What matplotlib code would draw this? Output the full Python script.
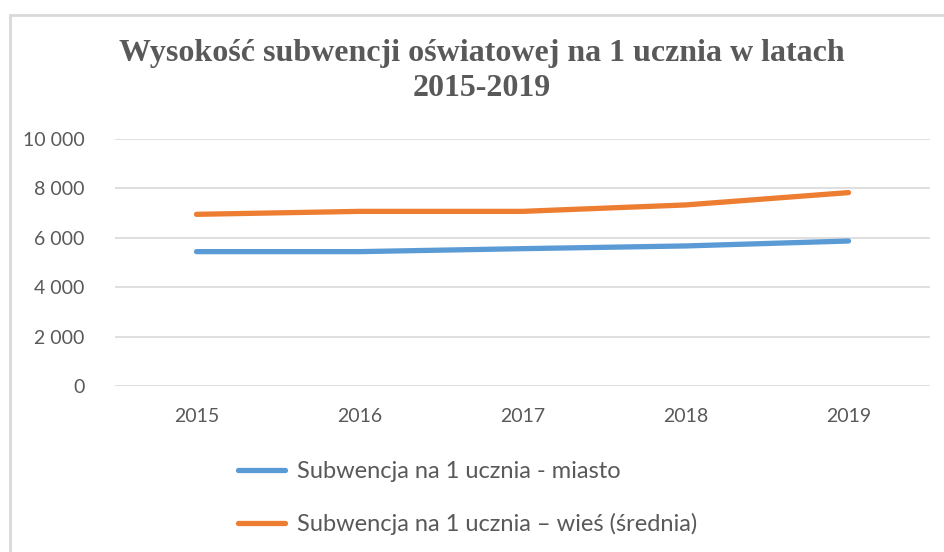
import matplotlib.pyplot as plt
from matplotlib.patches import Rectangle

years = ["2015", "2016", "2017", "2018", "2019"]
miasto = [5440, 5440, 5560, 5670, 5870]
wies = [6950, 7070, 7070, 7330, 7830]
labels = ["Subwencja na 1 ucznia - miasto", "Subwencja na 1 ucznia \u2013 wieś (średnia)"]
yticks = [0, 2000, 4000, 6000, 8000, 10000]

grey = "#595959"
plt.rcParams["font.family"] = ["Lato", "DejaVu Sans"]

fig = plt.figure(figsize=(9.45, 5.52), dpi=100)
W, H = 945, 552

# chart frame
fig.patches.append(Rectangle((10 / W, -0.1), 1.2, 1 - 15 / H + 0.1, transform=fig.transFigure,
                             fill=False, edgecolor="#D9D9D9", linewidth=2))

ax = fig.add_axes([115 / W, 1 - 386 / H, (930 - 115) / W, (386 - 139) / H])
x = list(range(len(years)))
l1, = ax.plot(x, miasto, color="#5B9BD5", linewidth=3.8, solid_capstyle="round", label=labels[0])
l2, = ax.plot(x, wies, color="#ED7D31", linewidth=3.8, solid_capstyle="round", label=labels[1])

ax.set_xlim(-0.5, 4.5)
ax.set_ylim(0, 10000)
ax.set_yticks(yticks)
ax.set_yticklabels([f"{v:,}".replace(",", " ") for v in yticks])
ax.set_xticks(x)
ax.set_xticklabels(years)
ax.grid(axis="y", color="#D9D9D9", linewidth=1.2)
ax.set_axisbelow(True)
for s in ax.spines.values():
    s.set_visible(False)
ax.tick_params(length=0, labelsize=14, colors=grey)
ax.tick_params(axis="y", pad=22)
ax.tick_params(axis="x", pad=16)

fig.text(482 / W, 1 - 71 / H, "Wysokość subwencji oświatowej na 1 ucznia w latach\n2015-2019",
         ha="center", va="center", fontsize=23, fontweight="bold", color=grey,
         family=["Liberation Serif", "DejaVu Serif"], linespacing=1.25)

fig.legend(handles=[l1, l2], loc="upper left", bbox_to_anchor=(217 / W, 1 - 440 / H),
           frameon=False, fontsize=17, labelcolor=grey, handlelength=2.0, handletextpad=0.5,
           labelspacing=1.3)

fig.savefig("out.png", dpi=100)
